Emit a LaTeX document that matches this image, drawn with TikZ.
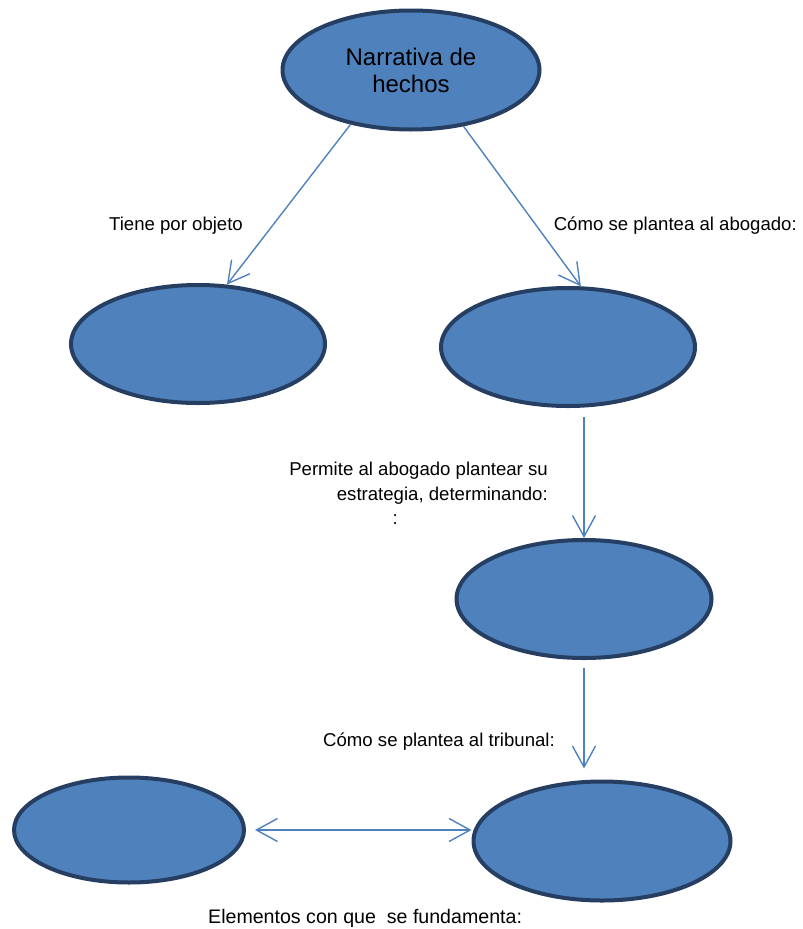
\documentclass[tikz,border=0pt]{standalone}
\usepackage{fontspec}
\setmainfont{Liberation Sans}
\usetikzlibrary{arrows.meta,shapes.geometric}
\definecolor{colorfill}  {RGB}{79 ,129,189}
\definecolor{colorline}  {RGB}{37 ,62 ,98 }
\definecolor{colorarrow} {RGB}{79 ,129,189}
\definecolor{colortext}  {RGB}{0  ,0  ,0  }

\begin{document}
\begin{tikzpicture}[
    x=1pt, y=-1pt,
    base/.style={ellipse,fill=colorfill,draw=colorline,line width=4pt,inner sep=0pt},
    txt/.style={text=colortext,font={\fontsize{18.6}{24.5}\selectfont},inner sep=0pt},
    arr/.style={-{Straight Barb[length=21pt,width=23pt,line width=1.4pt]},draw=colorarrow,line width=1.4pt},
    dblarr/.style={{Straight Barb[length=21pt,width=23pt,line width=1.4pt]}-{Straight Barb[length=21pt,width=23pt,line width=1.4pt]},draw=colorarrow,line width=1.4pt},
]
    \useasboundingbox (0,0) rectangle (803,929);

    % Nodes
    \node[base,minimum width=257pt,minimum height=119pt,align=center,
          font={\fontsize{24}{27}\selectfont}] (narrativa) at (411,70) {Narrativa de\\hechos};
    \node[base,minimum width=254pt,minimum height=118pt] (objeto)     at (198,344) {};
    \node[base,minimum width=254pt,minimum height=118pt] (abogado)    at (568,347) {};
    \node[base,minimum width=255pt,minimum height=118pt] (estrategia) at (584,599) {};
    \node[base,minimum width=230pt,minimum height=105pt] (elementos)  at (129,830) {};
    \node[base,minimum width=257pt,minimum height=119pt] (tribunal)   at (602,841) {};

    % Text
    \node[txt] (txtobjeto)     at (176,226) {Tiene por objeto};
    \node[txt,anchor=east] (txtabogado)    at (797,226) {Cómo se plantea al abogado:};
    \node[txt,anchor=north east,align=right] (txtestrategia) at (548,462)
        {Permite al abogado plantear su\\estrategia, determinando:\\:\hspace*{150pt}};
    \node[txt,anchor=east] (txttribunal)   at (555,742) {Cómo se plantea al tribunal:};
    \node[txt,anchor=west,font={\fontsize{19.6}{24}\selectfont}] (txtelementos) at (208,918)
        {Elementos con que\ \ se fundamenta:};

    % Arrows
    \draw[arr] (narrativa.222) -- (objeto.64);
    \draw[arr] (narrativa.313) -- (abogado.78);
    \draw[arr,shorten <=9pt] (estrategia.north |- abogado.south) -- (estrategia.north);
    \draw[arr,shorten <=8pt,shorten >=11pt] (estrategia.south) -- (estrategia.south |- tribunal.north);
    \draw[dblarr,shorten <=9pt] (elementos.east) -- (elementos.east -| tribunal.west);

\end{tikzpicture}
\end{document}
